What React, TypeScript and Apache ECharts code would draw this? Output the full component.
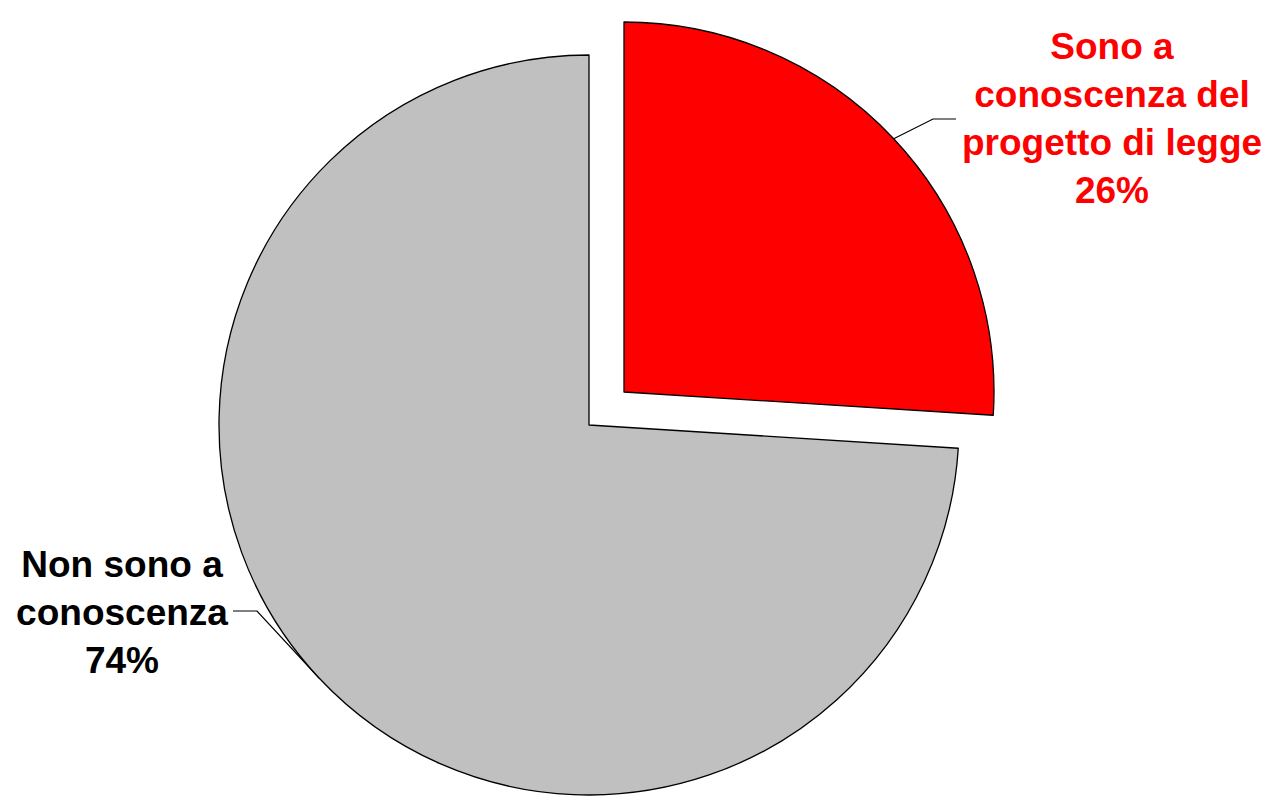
import React, { useEffect, useRef } from "react";
import * as echarts from "echarts";

const categories = ["Sono a\nconoscenza del\nprogetto di legge", "Non sono a\nconoscenza"];
const values = [26, 74];
const colors = ["#FF0000", "#C0C0C0"];
const labelColors = ["#FF0000", "#000000"];

// layout: slice 0 is pulled out of the pie
const pieCenter = [589, 425];
const explodedCenter = [624, 392];
const labelPos = [
  { x: 1112, y: 118, mid: [933, 119], end: [956, 119] },
  { x: 122, y: 612, mid: [257, 611], end: [233, 611] },
];

function makeSeries(shown: number, center: number[]) {
  return {
    type: "pie",
    center,
    radius: 370,
    startAngle: 90,
    clockwise: true,
    percentPrecision: 0,
    avoidLabelOverlap: false,
    silent: true,
    emphasis: { disabled: true, scale: false },
    itemStyle: { borderColor: "#000000", borderWidth: 1.3 },
    label: {
      show: true,
      position: "outside",
      formatter: "{b}\n{d}%",
      fontFamily: "'Liberation Sans', Arial, sans-serif",
      fontWeight: "bold",
      fontSize: 37,
      lineHeight: 48,
      align: "center",
    },
    labelLine: {
      show: true,
      lineStyle: { color: "#000000", width: 1.2 },
    },
    labelLayout: (params: any) => {
      if (params.dataIndex !== shown) return {};
      const p = labelPos[shown];
      const start = params.labelLinePoints ? params.labelLinePoints[0] : null;
      return {
        x: p.x,
        y: p.y,
        align: "center",
        verticalAlign: "middle",
        labelLinePoints: start ? [start, p.mid, p.end] : undefined,
      };
    },
    data: categories.map((name, i) =>
      i === shown
        ? {
            name,
            value: values[i],
            itemStyle: { color: colors[i] },
            label: { color: labelColors[i] },
          }
        : {
            name,
            value: values[i],
            itemStyle: { color: "rgba(0,0,0,0)", borderWidth: 0 },
            label: { show: false },
            labelLine: { show: false },
          }
    ),
  };
}

export default function App() {
  const ref = useRef<HTMLDivElement>(null);
  useEffect(() => {
    if (!ref.current) return;
    const chart = echarts.init(ref.current, null, { renderer: "svg" });
    chart.setOption({
      animation: false,
      backgroundColor: "#ffffff",
      series: [makeSeries(1, pieCenter), makeSeries(0, explodedCenter)],
    });
    return () => chart.dispose();
  }, []);
  return (
    <div
      ref={ref}
      style={{ position: "absolute", left: 0, top: 0, width: 1265, height: 801 }}
    />
  );
}
